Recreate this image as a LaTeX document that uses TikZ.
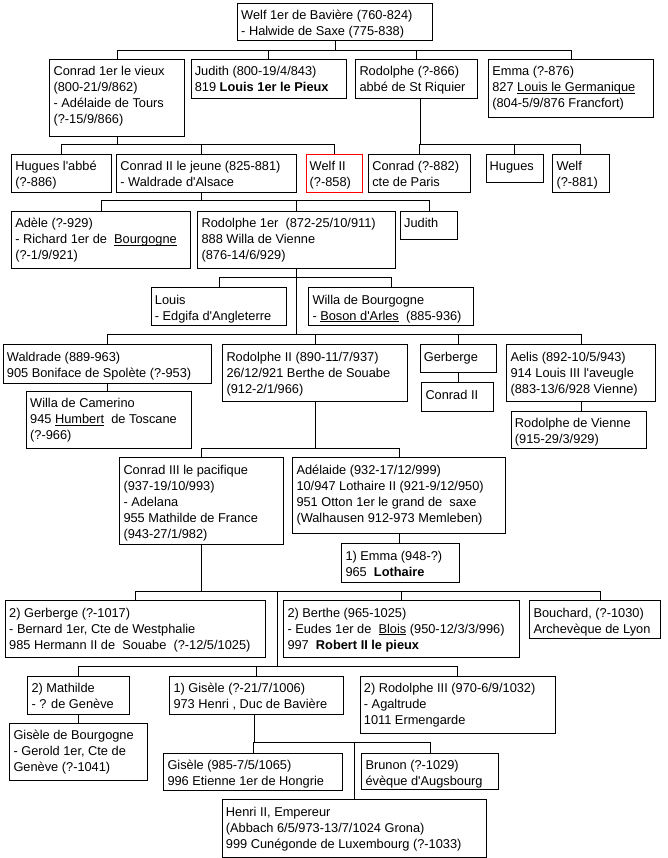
\documentclass[tikz,border=0pt]{standalone}
\usepackage{fontspec}
\setmainfont{Liberation Sans}
\usepackage{tikz}
\tikzstyle{familyTree} = [x=1pt, y=-1pt]
\definecolor{welfRed}{RGB}{255,0,0}
\tikzstyle{personStyle} = [draw=black, fill=white, line width=1pt, inner sep=0pt, anchor=north west]
\tikzstyle{personText} = [inner sep=0pt, anchor=north west, align=left, font=\fontsize{12.8pt}{16pt}\selectfont]
\tikzstyle{treeLine} = [color=black, line width=1pt]
\tikzstyle{redBox} = [draw=welfRed]
\newcommand{\ap}{\textquotesingle}
\newcommand{\ulName}[1]{\underline{\smash{#1}}}
\newcommand{\person}[7][]{
  \pgfmathsetmacro{\boxWidth}{#5 - #3}
  \pgfmathsetmacro{\boxHeight}{#6 - #4}
  \node [personStyle, minimum width=\boxWidth pt, minimum height=\boxHeight pt, #1] (#2) at (#3,#4) {};
  \node [personText] (#2Txt) at ([xshift=4pt, yshift=-5.5pt]#2.north west) {\rule{0pt}{11pt}#7};
}
\newcommand{\childLink}[4][0pt]{\draw [treeLine] (#2) |- ([xshift=#1, yshift=#4]#3.north) -- ([xshift=#1]#3.north);}
\newcommand{\directLink}[2]{\draw [treeLine] (#1.south) -- (#1.south |- #2.north);}

\begin{document}
\begin{tikzpicture}[familyTree]
  \fill [white] (0,0) rectangle (667,858);
  \useasboundingbox (0,0) rectangle (667,858);

  \person{welf}{237}{3.3}{432}{40}{Welf 1er de Bavière (760-824)\\- Halwide de Saxe (775-838)}
  \person{conradA}{49.4}{59.3}{183.8}{136}{Conrad 1er le vieux\\(800-21/9/862)\\- Adélaide de Tours\\(?-15/9/866)}
  \person{judithA}{190.6}{59.3}{345.5}{97.7}{Judith (800-19/4/843)\\819 \textbf{Louis 1er le Pieux}}
  \person{rodolpheA}{355.3}{59.3}{476.6}{97.7}{Rodolphe (?-866)\\abbé de St Riquier}
  \person{emmaA}{488.1}{59.3}{653.2}{116.7}{Emma (?-876)\\827 \ulName{Louis le Germanique}\\(804-5/9/876 Francfort)}

  \person{huguesA}{11.1}{154.3}{110.6}{192.3}{Hugues l\ap abbé\\(?-886)}
  \person{conradB}{116.2}{154.3}{296.2}{192.3}{Conrad II le jeune (825-881)\\- Waldrade d\ap Alsace}
  \person[redBox]{welfB}{305.5}{154.3}{362.1}{192.3}{Welf II\\(?-858)}
  \person{conradC}{368.1}{154.3}{470.2}{192.3}{Conrad (?-882)\\cte de Paris}
  \person{huguesB}{485.5}{154.3}{542.6}{182.3}{Hugues}
  \person{welfC}{552.3}{154.3}{608.5}{192.3}{Welf\\(?-881)}

  \person{adele}{11.1}{211}{190.2}{268}{Adèle (?-929)\\- Richard 1er de~ \ulName{Bourgogne}\\(?-1/9/921)}
  \person{rodolpheB}{197.4}{211}{394.5}{268}{Rodolphe 1er~ (872-25/10/911)\\888 Willa de Vienne\\(876-14/6/929)}
  \person{judithB}{400}{211}{457.4}{239}{Judith}

  \person{louis}{150.7}{287.3}{286.3}{325}{Louis\\- Edgifa d\ap Angleterre}
  \person{willaA}{308.3}{287.3}{473.3}{325}{Willa de Bourgogne\\- \ulName{Boson d\ap Arles}~ (885-936)}

  \person{waldrade}{2.7}{344.3}{210.7}{382.7}{Waldrade (889-963)\\905 Boniface de Spolète (?-953)}
  \person{rodolpheC}{222.3}{344.3}{407.3}{401}{Rodolphe II (890-11/7/937)\\26/12/921 Berthe de Souabe\\(912-2/1/966)}
  \person{gerbergeA}{419.7}{344.3}{495.7}{372.3}{Gerberge}
  \person{aelis}{506.3}{344.3}{654.7}{401}{Aelis (892-10/5/943)\\914 Louis III l\ap aveugle\\(883-13/6/928 Vienne)}
  \person{camerino}{26}{391}{190.7}{448.3}{Willa de Camerino\\945 \ulName{Humbert}~ de Toscane\\(?-966)}
  \person{conradD}{421.3}{382.3}{493.3}{410.7}{Conrad II}
  \person{rodolpheV}{510.7}{410.7}{646.3}{448.3}{Rodolphe de Vienne\\(915-29/3/929)}

  \person{conradE}{119.3}{457.3}{282.7}{544}{Conrad III le pacifique\\(937-19/10/993)\\- Adelana\\955 Mathilde de France\\(943-27/1/982)}
  \person{adelaide}{292.3}{457.3}{504.7}{532.7}{Adélaide (932-17/12/999)\\10/947 Lothaire II (921-9/12/950)\\951 Otton 1er le grand de~ saxe\\(Walhausen 912-973 Memleben)}
  \person{emmaB}{341.3}{543.3}{459}{581.7}{1) Emma (948-?)\\965~ \textbf{Lothaire}}

  \person{gerbergeB}{5}{600.3}{264.7}{657}{2) Gerberge (?-1017)\\- Bernard 1er, Cte de Westphalie\\985 Hermann II de~ Souabe~ (?-12/5/1025)}
  \person{berthe}{283.3}{600.3}{519}{657}{2) Berthe (965-1025)\\- Eudes 1er de~ \ulName{Blois} (950-12/3/3/996)\\997~ \textbf{Robert II le pieux}}
  \person{bouchard}{529.3}{600.3}{660}{638.3}{Bouchard, (?-1030)\\Archevèque de Lyon}

  \person{mathilde}{27.3}{676}{129.3}{714}{2) Mathilde\\- ? de Genève}
  \person{giseleA}{169.3}{676}{343.3}{714}{1) Gisèle (?-21/7/1006)\\973 Henri , Duc de Bavière}
  \person{rodolpheD}{359.7}{676}{554.7}{732.7}{2) Rodolphe III (970-6/9/1032)\\- Agaltrude\\1011 Ermengarde}
  \person{giseleB}{9.3}{722.7}{146.7}{780}{Gisèle de Bourgogne\\- Gerold 1er, Cte de\\Genève (?-1041)}
  \person{giseleC}{163.3}{752.5}{342.3}{790}{Gisèle (985-7/5/1065)\\996 Etienne 1er de Hongrie}
  \person{brunon}{361.3}{752.5}{498.3}{789.3}{Brunon (?-1029)\\évèque d\ap Augsbourg}
  \person{henri}{221.7}{799.3}{485.7}{856.7}{Henri II, Empereur\\(Abbach 6/5/973-13/7/1024 Grona)\\999 Cunégonde de Luxembourg (?-1033)}

  \foreach \kid in {conradA, judithA, rodolpheA, emmaA} {\childLink{welf.south}{\kid}{9pt}}
  \foreach \kid in {huguesA, welfB} {\childLink{conradA.south}{\kid}{10pt}}
  \childLink[-5pt]{conradA.south}{conradB}{10pt}
  \foreach \kid in {conradC, huguesB, welfC} {\childLink{[xshift=4pt]rodolpheA.south}{\kid}{10pt}}
  \foreach \kid in {adele, rodolpheB, judithB} {\childLink{[xshift=-5pt]conradB.south}{\kid}{10pt}}
  \foreach \kid in {louis, willaA, waldrade, rodolpheC, gerbergeA, aelis} {\childLink{rodolpheB.south}{\kid}{10pt}}
  \directLink{waldrade}{camerino}
  \directLink{gerbergeA}{conradD}
  \directLink{aelis}{rodolpheV}
  \foreach \kid in {conradE, adelaide} {\childLink{rodolpheC.south}{\kid}{9pt}}
  \directLink{adelaide}{emmaB}
  \foreach \kid in {gerbergeB, berthe} {\childLink{conradE.south}{\kid}{9pt}}
  \childLink[5pt]{conradE.south}{bouchard}{9pt}
  \coordinate (conradFork) at (277.3,591.3);
  \foreach \kid in {mathilde, giseleA, rodolpheD} {\childLink{conradFork}{\kid}{10pt}}
  \directLink{mathilde}{giseleB}
  \foreach \kid in {giseleC, brunon} {\childLink{[xshift=-2pt]giseleA.south}{\kid}{10pt}}
  \coordinate (henriBar) at ([yshift=10pt]brunon.north);
  \draw [treeLine] (henriBar -| henri.north) -- (henri.north);
\end{tikzpicture}
\end{document}
